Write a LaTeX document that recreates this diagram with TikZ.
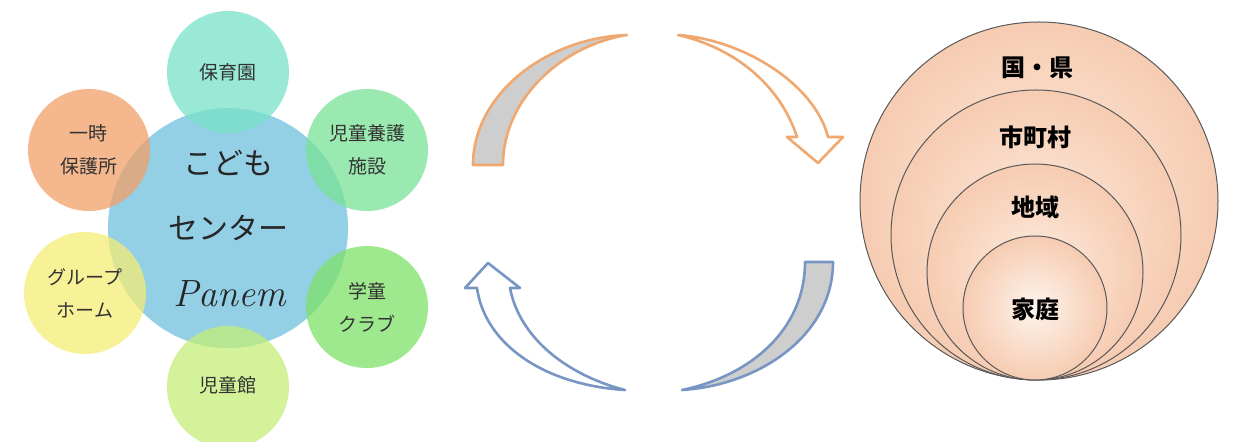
\documentclass[tikz,border=0pt]{standalone}
\usepackage{fontspec}
\newfontfamily\jp{Noto Sans CJK JP}
\usetikzlibrary{shapes}
\definecolor{hub_blue}{RGB}{120, 196, 224}
\definecolor{sat_teal}{RGB}{120, 226, 200}
\definecolor{sat_orange}{RGB}{242, 160, 104}
\definecolor{sat_green}{RGB}{120, 226, 150}
\definecolor{sat_yellow}{RGB}{244, 236, 116}
\definecolor{sat_lime}{RGB}{126, 224, 104}
\definecolor{sat_pale}{RGB}{196, 238, 120}
\definecolor{arr_orange}{RGB}{240, 168, 110}
\definecolor{arr_blue}{RGB}{120, 150, 196}
\definecolor{arr_gray}{RGB}{206, 206, 206}
\definecolor{peach_in}{RGB}{253, 236, 224}
\definecolor{peach_out}{RGB}{246, 204, 178}
\tikzstyle{hub}=[circle,draw=none,fill=hub_blue,fill opacity=0.8,
  inner sep=0pt,minimum size=120pt]
\tikzstyle{sat}=[circle,draw=none,fill opacity=0.75,
  inner sep=0pt,minimum size=61pt]
\tikzstyle{lbl}=[font=\jp\fontsize{9.5}{16.5}\selectfont,text=black!80,align=center]
\tikzstyle{big}=[font=\jp\fontsize{15}{18}\selectfont,text=black!85]
\tikzstyle{ring}=[circle,draw=black!65,line width=0.5pt,inner sep=0pt,
  inner color=peach_in,outer color=peach_out]
\tikzstyle{rlbl}=[font=\jp\bfseries\fontsize{12}{14}\selectfont]
\tikzstyle{warm}=[draw=arr_orange,line width=1.3pt,line join=round]
\tikzstyle{cool}=[draw=arr_blue,line width=1.3pt,line join=round]

\begin{document}
\begin{tikzpicture}[x=0.5pt,y=-0.5pt]
    \useasboundingbox (0,0) rectangle (1239,442);
    % centre and its six partners
    \node [style=hub] (hub) at (228,228) {};
    \node [style=sat,fill=sat_teal] (hoiku) at (228,72) {};
    \node [style=sat,fill=sat_orange] (ichiji) at (89,150) {};
    \node [style=sat,fill=sat_green] (yougo) at (367,150) {};
    \node [style=sat,fill=sat_yellow] (group) at (85,293) {};
    \node [style=sat,fill=sat_lime] (gakudo) at (367,307) {};
    \node [style=sat,fill=sat_pale] (jidokan) at (228,387) {};
    \node [style=big] (kodomo) at (228,163) {こども};
    \node [style=big] (center) at (228,228) {センター};
    \node [font=\fontsize{19}{20}\selectfont\itshape,text=black!85] (panem) at (230,294) {Panem};
    \node [style=lbl] (t_hoiku) at (228,72) {保育園};
    \node [style=lbl] (t_ichiji) at (89,150) {一時\\保護所};
    \node [style=lbl] (t_yougo) at (367,150) {児童養護\\施設};
    \node [style=lbl] (t_group) at (85,293) {グループ\\ホーム};
    \node [style=lbl] (t_gakudo) at (367,307) {学童\\クラブ};
    \node [style=lbl] (t_jidokan) at (228,385) {児童館};
    % the turning arrows
    \draw [style=warm,fill=arr_gray] (473,165) .. controls (473,95) and (545,38) .. (627,35)
      .. controls (560,46) and (503,100) .. (503,165) -- cycle;
    \draw [style=warm,fill=white] (678,35) .. controls (745,40) and (815,85) .. (828,137)
      -- (843,137) -- (818,163) -- (787,137) -- (797,137)
      .. controls (780,85) and (735,48) .. (678,35) -- cycle;
    \draw [style=cool,fill=arr_gray] (833,262) .. controls (833,335) and (760,385) .. (682,390)
      .. controls (750,376) and (805,330) .. (805,262) -- cycle;
    \draw [style=cool,fill=white] (625,390) .. controls (545,385) and (485,345) .. (477,288)
      -- (465,288) -- (488,263) -- (520,288) -- (510,288)
      .. controls (520,340) and (570,376) .. (625,390) -- cycle;
    % nested circles
    \node [style=ring] (kuni) at (1039,201) [minimum size=179pt] {};
    \node [style=ring] (shi) at (1036,235) [minimum size=145pt] {};
    \node [style=ring] (chiiki) at (1035,272) [minimum size=108pt] {};
    \node [style=ring,inner color=peach_in!60!white] (katei) at (1035,308) [minimum size=72pt] {};
    \node [style=rlbl] (t_kuni) at (1037,68) {国・県};
    \node [style=rlbl] (t_shi) at (1035,137) {市町村};
    \node [style=rlbl] (t_chiiki) at (1035,207) {地域};
    \node [style=rlbl] (t_katei) at (1035,309) {家庭};
\end{tikzpicture}
\end{document}
